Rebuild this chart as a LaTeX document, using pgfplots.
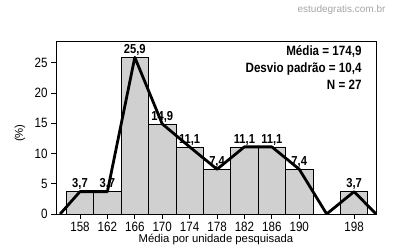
\documentclass[border=0pt]{standalone}
\usepackage{fontspec}
\setmainfont{Liberation Sans}
\newfontfamily\cond{Liberation Sans}[FakeStretch=0.86]
\usepackage{pgfplots}
\pgfplotsset{compat=1.18}
\definecolor{barfill}{RGB}{208,208,208}
\begin{document}
\begin{tikzpicture}[x=1pt,y=1pt]
\useasboundingbox (-56,-37) rectangle (337,214);
\begin{axis}[at={(0,0)}, anchor=south west, scale only axis,
  width=320pt, height=173pt,
  xmin=154.5, xmax=201.2, ymin=0, ymax=28.6,
  xtick={158,162,166,170,174,178,182,186,190,198},
  ytick={0,5,10,15,20,25},
  tick align=outside, xtick pos=bottom, ytick pos=left,
  major tick length=5pt,
  tick style={black, line width=0.8pt},
  axis line style={line width=0.8pt},
  /pgf/number format/assume math mode=true,
  tick label style={font=\cond\fontsize{13.5}{15}\selectfont},
  xlabel={Média por unidade pesquisada},
  ylabel={(\%)},
  label style={font=\fontsize{11.3}{13}\selectfont},
  xlabel style={at={(axis description cs:0.5,-0.150)}, anchor=center},
  ylabel style={at={(axis description cs:-0.1125,0.468)}, anchor=center},
]
\addplot[ybar, bar width=4, bar shift=0pt, fill=barfill, draw=black, line width=0.6pt,
  nodes near coords, point meta=explicit symbolic,
  nodes near coords style={font=\cond\bfseries\fontsize{13}{15}\selectfont, anchor=south, inner sep=1.5pt, text=black}]
  table[meta=lab, row sep=\\] {
  x y lab \\
  158 3.7 3,7 \\
  162 3.7 3,7 \\
  166 25.9 25,9 \\
  170 14.9 14,9 \\
  174 11.1 11,1 \\
  178 7.4 7,4 \\
  182 11.1 11,1 \\
  186 11.1 11,1 \\
  190 7.4 7,4 \\
  198 3.7 3,7 \\
  };
\addplot[black, line width=2.8pt, sharp plot, line join=round] coordinates {
  (155.1,0) (158,3.7) (162,3.7) (166,25.9) (170,14.9) (174,11.1) (178,7.4)
  (182,11.1) (186,11.1) (190,7.4) (194,0) (198,3.7) (201.2,0)};
\end{axis}
\node[anchor=east, font=\cond\bfseries\fontsize{13.5}{15}\selectfont] at (309,162) {Média = 174,9};
\node[anchor=east, font=\cond\bfseries\fontsize{13.5}{15}\selectfont] at (309,145) {Desvio padrão = 10,4};
\node[anchor=east, font=\cond\bfseries\fontsize{13.5}{15}\selectfont] at (309,129) {N = 27};
\node[anchor=east, text=black!35, font=\fontsize{10}{11}\selectfont] at (333,204) {estudegratis.com.br};
\end{tikzpicture}
\end{document}
